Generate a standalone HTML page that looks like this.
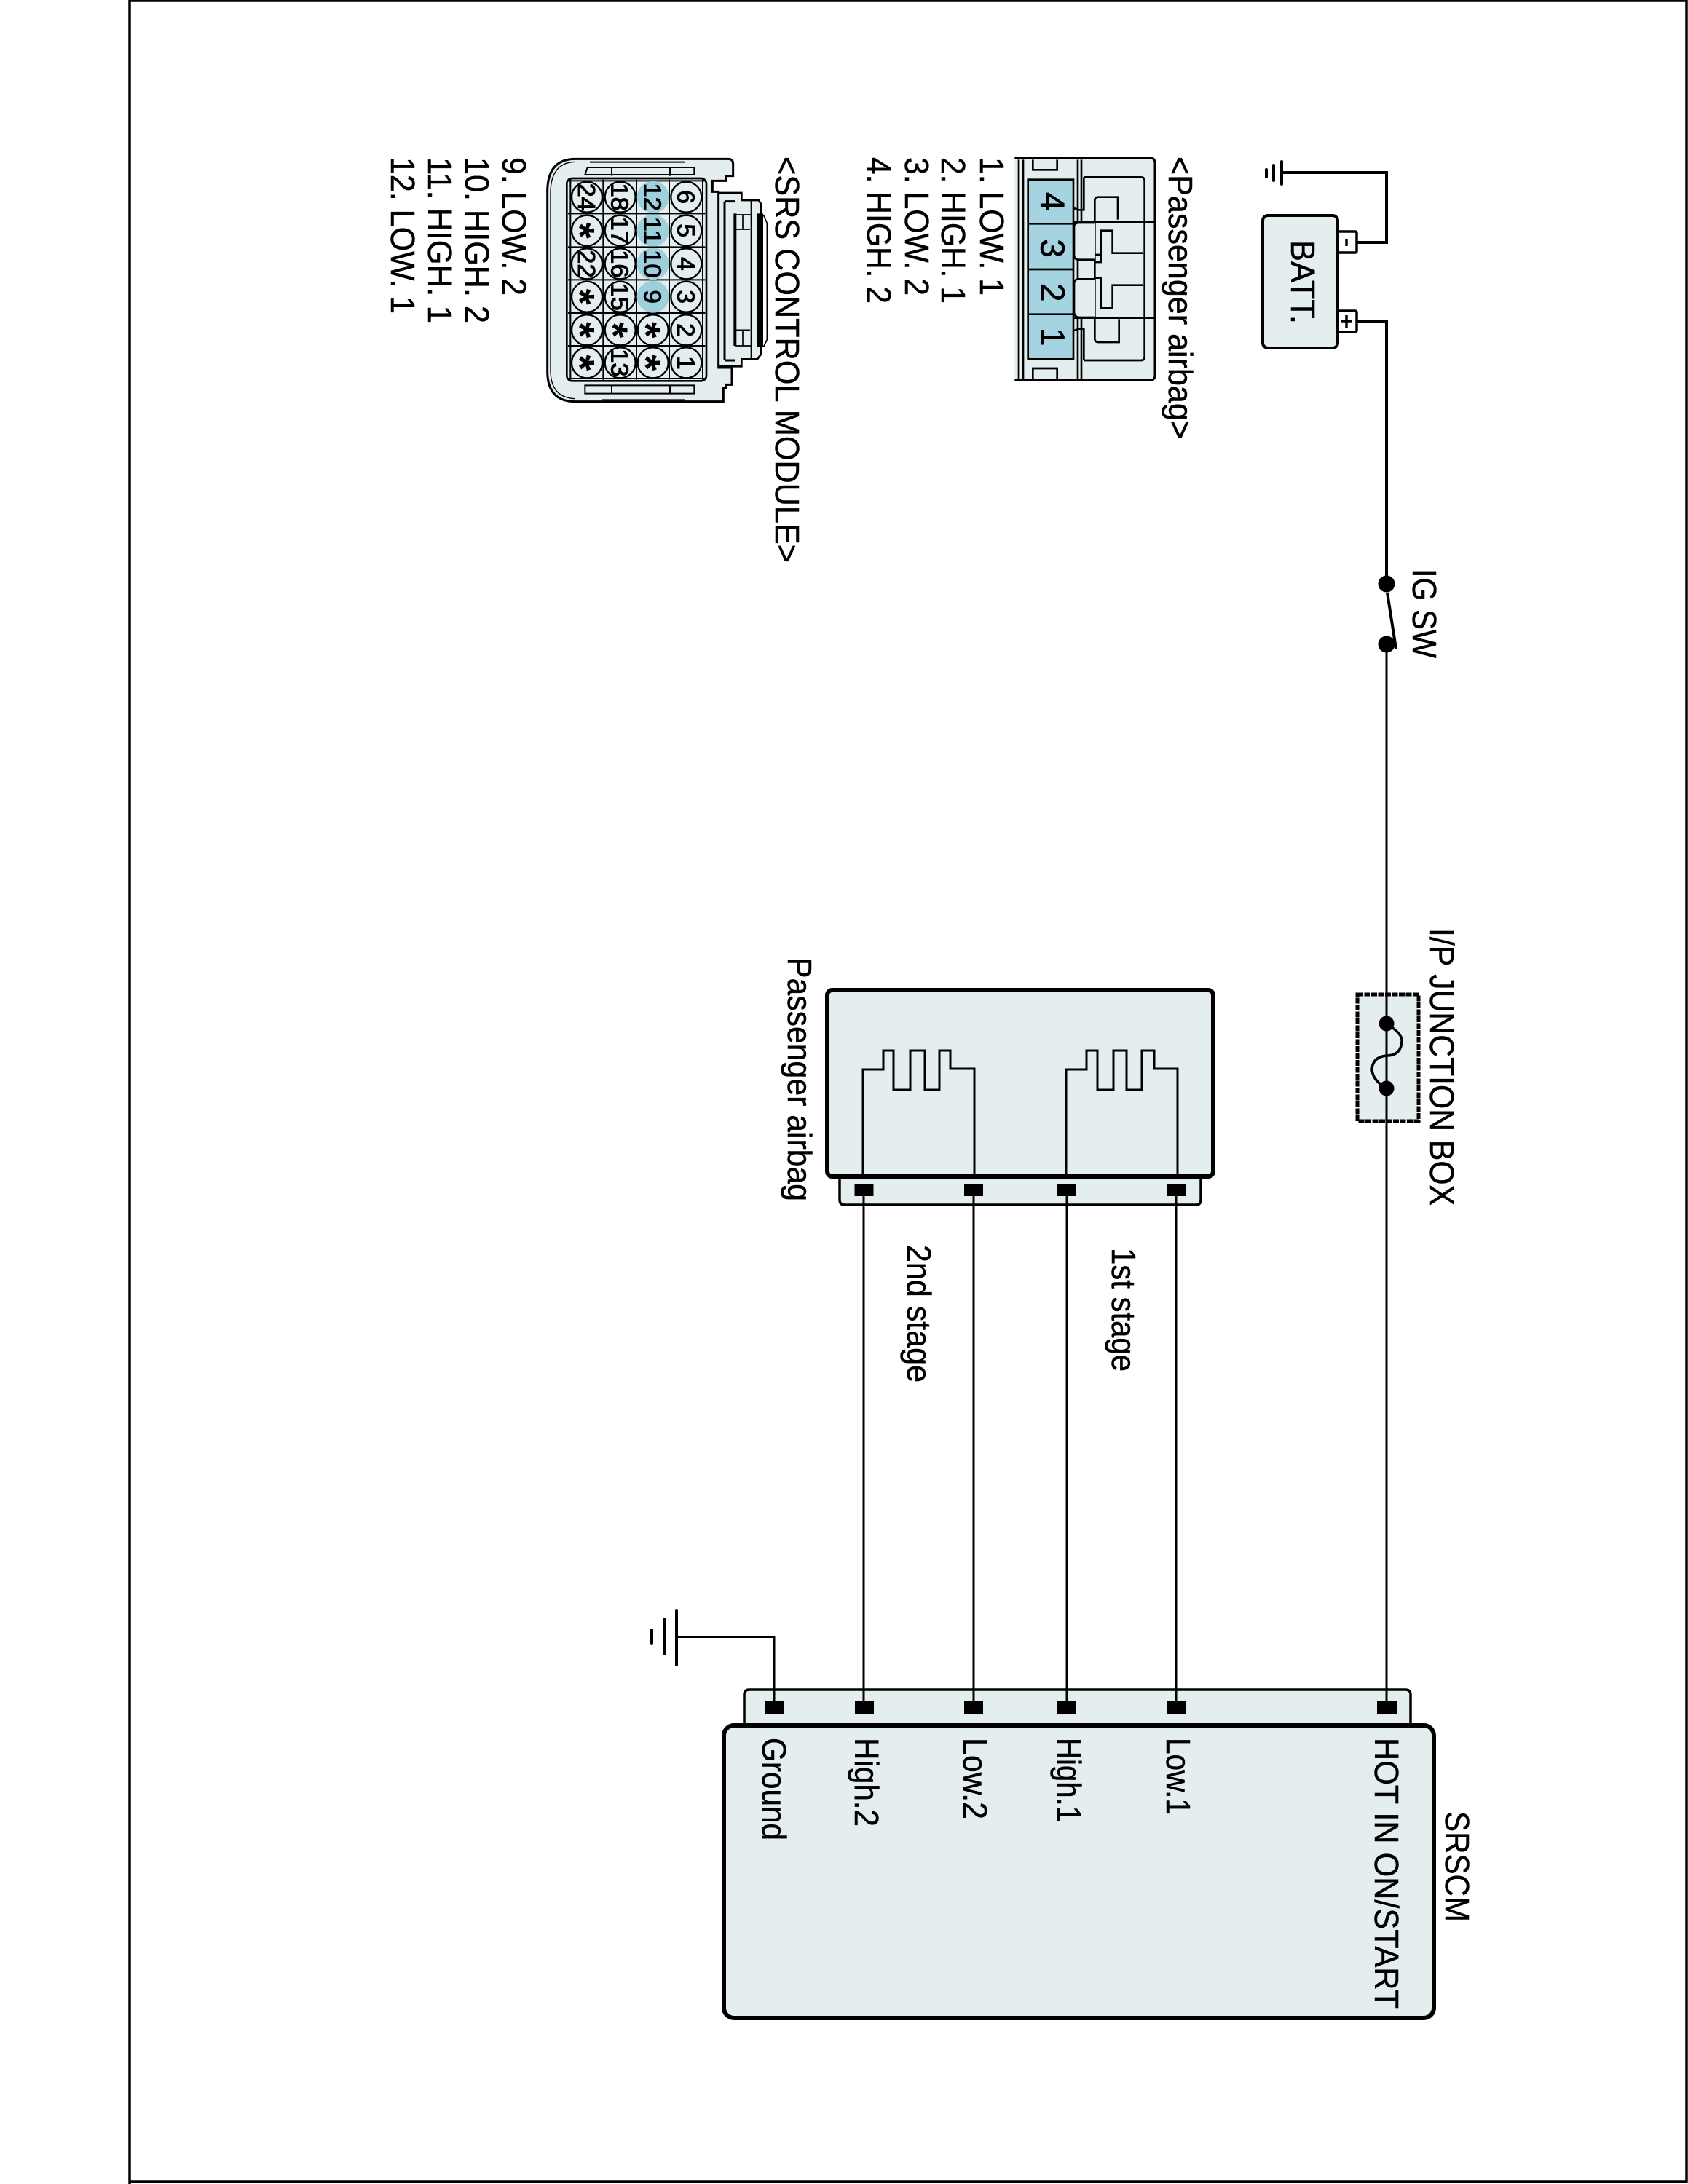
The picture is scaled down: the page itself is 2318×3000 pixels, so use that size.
<!DOCTYPE html>
<html><head><meta charset="utf-8"><style>
html,body{margin:0;padding:0;background:#fff}
svg{display:block}
text{font-family:"Liberation Sans",sans-serif;fill:#000}
</style></head><body>
<svg width="2318" height="3000" viewBox="0 0 2318 3000" xmlns="http://www.w3.org/2000/svg">
<rect width="2318" height="3000" fill="#fff"/>
<path d="M178,3000V1H2316V2997H178" fill="none" stroke="#000" stroke-width="3.5"/>

<!-- battery -->
<rect x="1837" y="318" width="26" height="29" rx="2" fill="#fff" stroke="#000" stroke-width="3.5"/>
<rect x="1837" y="427" width="26" height="29" rx="2" fill="#fff" stroke="#000" stroke-width="3.5"/>
<rect x="1734" y="296" width="103" height="182" rx="7" fill="#e4eeef" stroke="#000" stroke-width="4"/>
<path d="M1849,328V338M1849,433V450M1842,441H1857" stroke="#000" stroke-width="3.5"/>

<!-- junction box -->
<rect x="1864" y="1366" width="84" height="174" fill="#e4eeef" stroke="#000" stroke-width="5" stroke-dasharray="8 1.5"/>
<path d="M1904,1406Q1926,1420 1925,1430Q1924,1450 1904,1450Q1884,1452 1884,1470Q1886,1485 1904,1495" fill="none" stroke="#000" stroke-width="3.5"/>

<!-- airbag box -->
<path d="M1153,1610V1648Q1153,1655 1160,1655H1642Q1649,1655 1649,1648V1610" fill="#e4eeef" stroke="#000" stroke-width="3.5"/>
<rect x="1136" y="1360" width="530" height="256" rx="7" fill="#e4eeef" stroke="#000" stroke-width="6"/>
<g fill="none" stroke="#000" stroke-width="3">
<path d="M1185,1613V1469H1213V1443H1227V1497H1250V1443H1270V1497H1290V1443H1305V1468H1338V1613"/>
<path d="M1464,1613V1469H1492V1443H1507V1497H1529V1443H1547V1497H1568V1443H1585V1468H1617V1613"/>
</g>
<rect x="1173.500" y="1627" width="26" height="16"/><rect x="1324" y="1627" width="26" height="16"/>
<rect x="1452" y="1627" width="26" height="16"/><rect x="1602" y="1627" width="26" height="16"/>

<!-- SRSCM -->
<path d="M1022,2375V2328Q1022,2321 1029,2321H1930Q1937,2321 1937,2328V2375" fill="#e4eeef" stroke="#000" stroke-width="3.5"/>
<rect x="994" y="2370" width="975" height="402" rx="14" fill="#e4eeef" stroke="#000" stroke-width="6"/>
<rect x="1050" y="2337" width="26" height="17"/><rect x="1174" y="2337" width="26" height="17"/>
<rect x="1324" y="2337" width="26" height="17"/><rect x="1452" y="2337" width="26" height="17"/>
<rect x="1602" y="2337" width="26" height="17"/><rect x="1891" y="2337" width="27" height="17"/>

<!-- wires -->
<g fill="none" stroke="#000" stroke-width="3">
<path d="M1760,237H1904V333H1863" stroke-width="4"/>
<path d="M1863,441H1904V802" stroke-width="4"/>
<path d="M1904,885V2345"/>
<path d="M1186,1635V2345M1337,1635V2345M1465,1635V2345M1615,1635V2345"/>
<path d="M1063,2345V2248.5H929"/>
<path d="M1905,814L1917,891" stroke-width="4"/>
</g>
<g stroke="#000" stroke-width="4" fill="none" stroke-linecap="round">
<path d="M1760,222V253M1749,227V248M1739,233V243"/>
<path d="M929,2212V2287M912,2224V2272M895,2239V2257"/>
</g>
<circle cx="1904" cy="802" r="11.5"/><circle cx="1904" cy="885" r="11.5"/>
<ellipse cx="1904" cy="1406" rx="10.5" ry="10.5"/><ellipse cx="1904" cy="1495" rx="10.5" ry="10.5"/>

<!-- labels -->
<g font-size="46" stroke="#000" stroke-width="0.5">
<text transform="translate(1773,330) rotate(90)" textLength="115" lengthAdjust="spacingAndGlyphs">BATT.</text>
<text transform="translate(1940,782) rotate(90)" textLength="122" lengthAdjust="spacingAndGlyphs">IG SW</text>
<text transform="translate(1964,1275) rotate(90)" textLength="381" lengthAdjust="spacingAndGlyphs">I/P JUNCTION BOX</text>
<text transform="translate(1082,1315) rotate(90)" textLength="335" lengthAdjust="spacingAndGlyphs">Passenger airbag</text>
<text transform="translate(1246,1710) rotate(90)" textLength="189" lengthAdjust="spacingAndGlyphs">2nd stage</text>
<text transform="translate(1527,1714) rotate(90)" textLength="170" lengthAdjust="spacingAndGlyphs">1st stage</text>
<text transform="translate(1047,2387) rotate(90)" textLength="141" lengthAdjust="spacingAndGlyphs">Ground</text>
<text transform="translate(1174,2387) rotate(90)" textLength="122" lengthAdjust="spacingAndGlyphs">High.2</text>
<text transform="translate(1323,2387) rotate(90)" textLength="112" lengthAdjust="spacingAndGlyphs">Low.2</text>
<text transform="translate(1452,2387) rotate(90)" textLength="116" lengthAdjust="spacingAndGlyphs">High.1</text>
<text transform="translate(1602,2387) rotate(90)" textLength="106" lengthAdjust="spacingAndGlyphs">Low.1</text>
<text transform="translate(1888,2387) rotate(90)" textLength="372" lengthAdjust="spacingAndGlyphs">HOT IN ON/START</text>
<text transform="translate(1985,2488) rotate(90)" textLength="152" lengthAdjust="spacingAndGlyphs">SRSCM</text>
<text transform="translate(1605,215) rotate(90)" textLength="388" lengthAdjust="spacingAndGlyphs">&lt;Passenger airbag&gt;</text>
<text transform="translate(1346,216) rotate(90)" textLength="190" lengthAdjust="spacingAndGlyphs">1. LOW. 1</text>
<text transform="translate(1293,216) rotate(90)" textLength="201" lengthAdjust="spacingAndGlyphs">2. HIGH. 1</text>
<text transform="translate(1243,216) rotate(90)" textLength="190" lengthAdjust="spacingAndGlyphs">3. LOW. 2</text>
<text transform="translate(1191,216) rotate(90)" textLength="201" lengthAdjust="spacingAndGlyphs">4. HIGH. 2</text>
<text transform="translate(690,216) rotate(90)" textLength="190" lengthAdjust="spacingAndGlyphs">9. LOW. 2</text>
<text transform="translate(639,216) rotate(90)" textLength="228" lengthAdjust="spacingAndGlyphs">10. HIGH. 2</text>
<text transform="translate(588,216) rotate(90)" textLength="228" lengthAdjust="spacingAndGlyphs">11. HIGH. 1</text>
<text transform="translate(537,216) rotate(90)" textLength="215" lengthAdjust="spacingAndGlyphs">12. LOW. 1</text>
<text transform="translate(1065,215) rotate(90)" textLength="558" lengthAdjust="spacingAndGlyphs">&lt;SRS CONTROL MODULE&gt;</text>
</g>

<!-- passenger airbag connector (zoom coords) -->
<g transform="translate(1300,180) scale(0.33333)" fill="none" stroke="#000" stroke-width="9">
<path d="M280,111H838Q858,111 858,131V1007Q858,1027 838,1027H280" fill="#e4eeef"/>
<path d="M297,118V1020M315,118V1020M540,118V1020M555,118V375M555,770V1020" stroke-width="8"/>
<path d="M355,118V160H455V118M355,1020V978H455V1020" stroke-width="8"/>
<path d="M565,190H800Q815,190 815,205V930Q815,945 800,945H565" stroke-width="8"/>
<path d="M525,375H855M525,770H855" stroke-width="8"/>
<path d="M705,365V272H625Q610,272 610,287V855Q610,870 625,870H710V775" stroke-width="8"/>
<path d="M810,503H683V410H635V540H610M610,510H635M810,635H683V730H635V605H610" stroke-width="8"/>
<path d="M610,378H545Q525,378 525,395V510Q525,530 545,530H610M610,610H545Q525,610 525,630V745Q525,765 545,768H610" fill="#e4eeef" stroke-width="8"/>
<path d="M565,190V325H545L525,318M565,945V815H545L525,822" stroke-width="8"/>
<rect x="335" y="200" width="187" height="740" fill="#a5d3df" stroke-width="8"/>
<path d="M335,382H522M335,570H522M335,755H522" stroke-width="8"/>
<g font-size="138" fill="#000" stroke="#000" stroke-width="2">
<text transform="translate(388,290) rotate(90)" text-anchor="middle">4</text>
<text transform="translate(388,483) rotate(90)" text-anchor="middle">3</text>
<text transform="translate(388,665) rotate(90)" text-anchor="middle">2</text>
<text transform="translate(388,848) rotate(90)" text-anchor="middle">1</text>
</g>
</g>

<!-- SRS connector (zoom coords) -->
<g transform="translate(700,180) scale(0.33333)" fill="none" stroke="#000" stroke-width="8">
<path d="M860,255H955V285H1025L1035,300V920L1020,940H955V970H860Z" fill="#e4eeef" stroke-width="8"/>
<path d="M900,115Q920,115 920,135V185H890V205H835V250H860V975H915V1045H890V1060H880V1115H270Q155,1115 155,990V250Q155,115 270,115Z" fill="#e4eeef" stroke-width="9"/>
<path d="M270,127Q170,130 168,250V990Q170,1100 270,1103" stroke-width="4"/>
<path d="M330,128H720M320,150H760V180H310ZM420,150V185M660,150V185M310,1048H760V1082H310ZM420,1048V1082M660,1048V1082M380,1108H720" stroke-width="6"/>
<path d="M885,290V945M885,290H930M885,945H930" stroke-width="9"/>
<path d="M928,340V885" stroke-width="12"/>
<path d="M995,285V940" stroke-width="6"/>
<path d="M928,345H995M928,405H990M928,820H990M928,885H995M960,345V405M960,820V885" stroke-width="5"/>
<path d="M1032,340V890" stroke-width="24"/>
<path d="M1045,345L1060,380V860L1045,890" stroke-width="5"/>
<rect x="235" y="195" width="575" height="835" rx="22" fill="#e4eeef"/>
<path d="M250,200V1025M385,200V1025M522,200V1025M657,200V1025M795,200V1025M240,205H805M240,340H805M240,478H805M240,613H805M240,750H805M240,885H805M240,1020H805" stroke-width="6"/>
<g fill="#e4eeef" stroke-width="7">
<circle cx="318" cy="272" r="63"/><circle cx="318" cy="410" r="63"/><circle cx="318" cy="547" r="63"/><circle cx="318" cy="683" r="63"/><circle cx="318" cy="820" r="63"/><circle cx="318" cy="955" r="63"/>
<circle cx="455" cy="272" r="63"/><circle cx="455" cy="410" r="63"/><circle cx="455" cy="547" r="63"/><circle cx="455" cy="683" r="63"/><circle cx="455" cy="820" r="63"/><circle cx="455" cy="955" r="63"/>
<circle cx="590" cy="820" r="63"/><circle cx="590" cy="955" r="63"/>
<circle cx="727" cy="272" r="63"/><circle cx="727" cy="410" r="63"/><circle cx="727" cy="547" r="63"/><circle cx="727" cy="683" r="63"/><circle cx="727" cy="820" r="63"/><circle cx="727" cy="955" r="63"/>
</g>
<g fill="#9dcfdc" stroke="none">
<circle cx="590" cy="272" r="66"/><circle cx="590" cy="410" r="66"/><circle cx="590" cy="547" r="66"/><circle cx="590" cy="683" r="66"/>
</g>
<g font-size="100" fill="#000" stroke="#000" stroke-width="3" text-anchor="middle">
<text transform="translate(691,272) rotate(90)">6</text>
<text transform="translate(691,410) rotate(90)">5</text>
<text transform="translate(691,547) rotate(90)">4</text>
<text transform="translate(691,683) rotate(90)">3</text>
<text transform="translate(691,820) rotate(90)">2</text>
<text transform="translate(691,955) rotate(90)">1</text>
<text transform="translate(554,272) rotate(90)" textLength="115" lengthAdjust="spacingAndGlyphs">12</text>
<text transform="translate(554,410) rotate(90)" textLength="115" lengthAdjust="spacingAndGlyphs">11</text>
<text transform="translate(554,547) rotate(90)" textLength="115" lengthAdjust="spacingAndGlyphs">10</text>
<text transform="translate(554,683) rotate(90)">9</text>
<text transform="translate(419,272) rotate(90)" textLength="115" lengthAdjust="spacingAndGlyphs">18</text>
<text transform="translate(419,410) rotate(90)" textLength="115" lengthAdjust="spacingAndGlyphs">17</text>
<text transform="translate(419,547) rotate(90)" textLength="115" lengthAdjust="spacingAndGlyphs">16</text>
<text transform="translate(419,683) rotate(90)" textLength="115" lengthAdjust="spacingAndGlyphs">15</text>
<text transform="translate(419,955) rotate(90)" textLength="115" lengthAdjust="spacingAndGlyphs">13</text>
<text transform="translate(282,272) rotate(90)" textLength="115" lengthAdjust="spacingAndGlyphs">24</text>
<text transform="translate(282,547) rotate(90)" textLength="115" lengthAdjust="spacingAndGlyphs">22</text>
</g>
<g font-size="170" font-weight="bold" fill="#000" stroke="none" text-anchor="middle">
<text transform="translate(231,410) rotate(90)">*</text>
<text transform="translate(231,683) rotate(90)">*</text>
<text transform="translate(231,820) rotate(90)">*</text>
<text transform="translate(231,955) rotate(90)">*</text>
<text transform="translate(368,820) rotate(90)">*</text>
<text transform="translate(503,820) rotate(90)">*</text>
<text transform="translate(503,955) rotate(90)">*</text>
</g>
</g>
</svg>
</body></html>
